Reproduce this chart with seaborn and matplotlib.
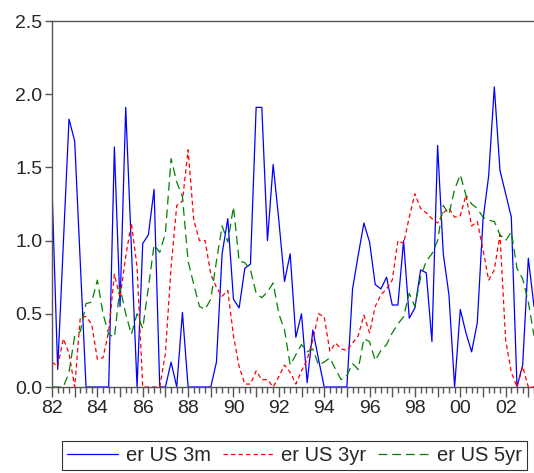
import numpy as np
import pandas as pd
import seaborn as sns
import matplotlib
matplotlib.use('Agg')
import matplotlib.pyplot as plt
from matplotlib.ticker import FixedLocator, FuncFormatter

# quarterly data, 1982Q1 - 2003Q2
start_year = 1982
n_quarters = 86

er_3m = [1.36, 0.12, 0.98, 1.83, 1.68, 0.84, 0.00, 0.00, 0.00, 0.00,
         0.00, 1.64, 0.55, 1.91, 0.95, 0.00, 0.98, 1.04, 1.35, 0.00,
         0.00, 0.17, 0.00, 0.51, 0.00, 0.00, 0.00, 0.00, 0.00, 0.17,
         0.91, 1.15, 0.60, 0.54, 0.81, 0.84, 1.91, 1.91, 1.00, 1.52,
         1.14, 0.72, 0.91, 0.34, 0.50, 0.03, 0.39, 0.19, 0.00, 0.00,
         0.00, 0.00, 0.00, 0.67, 0.90, 1.12, 0.99, 0.70, 0.67, 0.75,
         0.56, 0.56, 1.00, 0.47, 0.54, 0.80, 0.78, 0.31, 1.65, 0.91,
         0.63, 0.00, 0.53, 0.37, 0.24, 0.44, 1.14, 1.44, 2.05, 1.48,
         1.32, 1.16, 0.00, 0.15, 0.88, 0.55]

er_3yr = [0.17, 0.14, 0.33, 0.23, 0.00, 0.48, 0.48, 0.43, 0.19, 0.20,
          0.38, 0.77, 0.61, 0.89, 1.12, 0.82, 0.00, 0.00, 0.00, 0.00,
          0.23, 0.82, 1.24, 1.27, 1.62, 1.14, 1.00, 1.00, 0.77, 0.68,
          0.62, 0.66, 0.35, 0.14, 0.02, 0.02, 0.11, 0.05, 0.05, 0.00,
          0.07, 0.15, 0.10, 0.02, 0.11, 0.19, 0.32, 0.50, 0.48, 0.245,
          0.30, 0.26, 0.25, 0.30, 0.35, 0.49, 0.37, 0.55, 0.63, 0.67,
          0.73, 1.00, 0.98, 1.16, 1.32, 1.22, 1.19, 1.15, 1.12, 1.19,
          1.22, 1.16, 1.17, 1.31, 1.10, 1.13, 0.94, 0.73, 0.80, 1.04,
          0.32, 0.10, 0.00, 0.14, 0.00, 0.00]

er_5yr = [0.00, 0.00, 0.00, 0.10, 0.35, 0.38, 0.57, 0.58, 0.73, 0.50,
          0.36, 0.34, 0.68, 0.50, 0.36, 0.50, 0.40, 0.68, 0.97, 0.92,
          1.05, 1.56, 1.40, 1.30, 0.86, 0.70, 0.55, 0.53, 0.60, 0.86,
          1.10, 0.99, 1.23, 0.86, 0.85, 0.80, 0.64, 0.61, 0.65, 0.71,
          0.50, 0.39, 0.15, 0.22, 0.29, 0.24, 0.26, 0.15, 0.17, 0.20,
          0.12, 0.05, 0.08, 0.16, 0.12, 0.33, 0.31, 0.18, 0.25, 0.29,
          0.37, 0.43, 0.48, 0.64, 0.55, 0.75, 0.86, 0.91, 1.00, 1.24,
          1.18, 1.35, 1.45, 1.31, 1.25, 1.22, 1.16, 1.14, 1.13, 1.04,
          1.00, 1.06, 0.81, 0.74, 0.58, 0.35]

series_names = ['er US 3m', 'er US 3yr', 'er US 5yr']
colors = {'er US 3m': '#0000ff', 'er US 3yr': '#ff0000', 'er US 5yr': '#008000'}
dash_styles = {'er US 3m': '', 'er US 3yr': (3.5, 2.5), 'er US 5yr': (7, 4)}

t = start_year + np.arange(n_quarters) / 4.0
df = pd.DataFrame({
    'date': np.concatenate([t, t, t]),
    'value': er_3m + er_3yr + er_5yr,
    'series': np.repeat(series_names, n_quarters),
})

sns.set_style('white')
plt.rcParams['font.family'] = ['Liberation Sans', 'DejaVu Sans']

fig = plt.figure(figsize=(5.34, 4.73), dpi=100)
ax = fig.add_axes([52 / 534, 86 / 473, 482 / 534, 366 / 473])

sns.lineplot(data=df, x='date', y='value', hue='series', style='series',
             palette=colors, dashes=dash_styles, estimator=None, sort=False,
             linewidth=0.9, ax=ax)

ax.set_xlim(t[0], t[-1])
ax.set_ylim(0, 2.5)
ax.set_xlabel('')
ax.set_ylabel('')

# year ticks (labels every 2nd year), quarter minor ticks
years = np.arange(start_year, 2004)
ax.xaxis.set_major_locator(FixedLocator(years))
ax.xaxis.set_minor_locator(FixedLocator(t))
ax.xaxis.set_major_formatter(FuncFormatter(lambda v, p: '%02d' % (int(round(v)) % 100) if int(round(v)) % 2 == 0 else ''))
ax.set_yticks([0.0, 0.5, 1.0, 1.5, 2.0, 2.5])
ax.yaxis.set_major_formatter(FuncFormatter(lambda v, p: '%.1f' % v))

ax.tick_params(axis='x', which='major', direction='out', length=7, width=1, color='#555555',
               labelsize=14, pad=2, bottom=True)
ax.tick_params(axis='x', which='minor', direction='out', length=4, width=1, color='#555555', bottom=True)
ax.tick_params(axis='y', which='major', direction='out', length=5, width=1, color='#555555',
               labelsize=14, pad=2, left=True)

for side in ['left', 'bottom', 'top']:
    ax.spines[side].set_visible(True)
    ax.spines[side].set_color('#555555')
    ax.spines[side].set_linewidth(1.0)
ax.spines['right'].set_visible(False)

handles, labels = ax.get_legend_handles_labels()
ax.get_legend().remove()
leg = fig.legend(handles, labels, loc='center', bbox_to_anchor=(294.5 / 534, 1 - 455.5 / 473),
                 ncol=3, fontsize=14.5, frameon=True, fancybox=False, handlelength=2.5,
                 handletextpad=0.4, columnspacing=0.6, borderpad=0.25, borderaxespad=0)
leg.get_frame().set_edgecolor('black')
leg.get_frame().set_linewidth(0.8)

fig.savefig('out.png', dpi=100)
